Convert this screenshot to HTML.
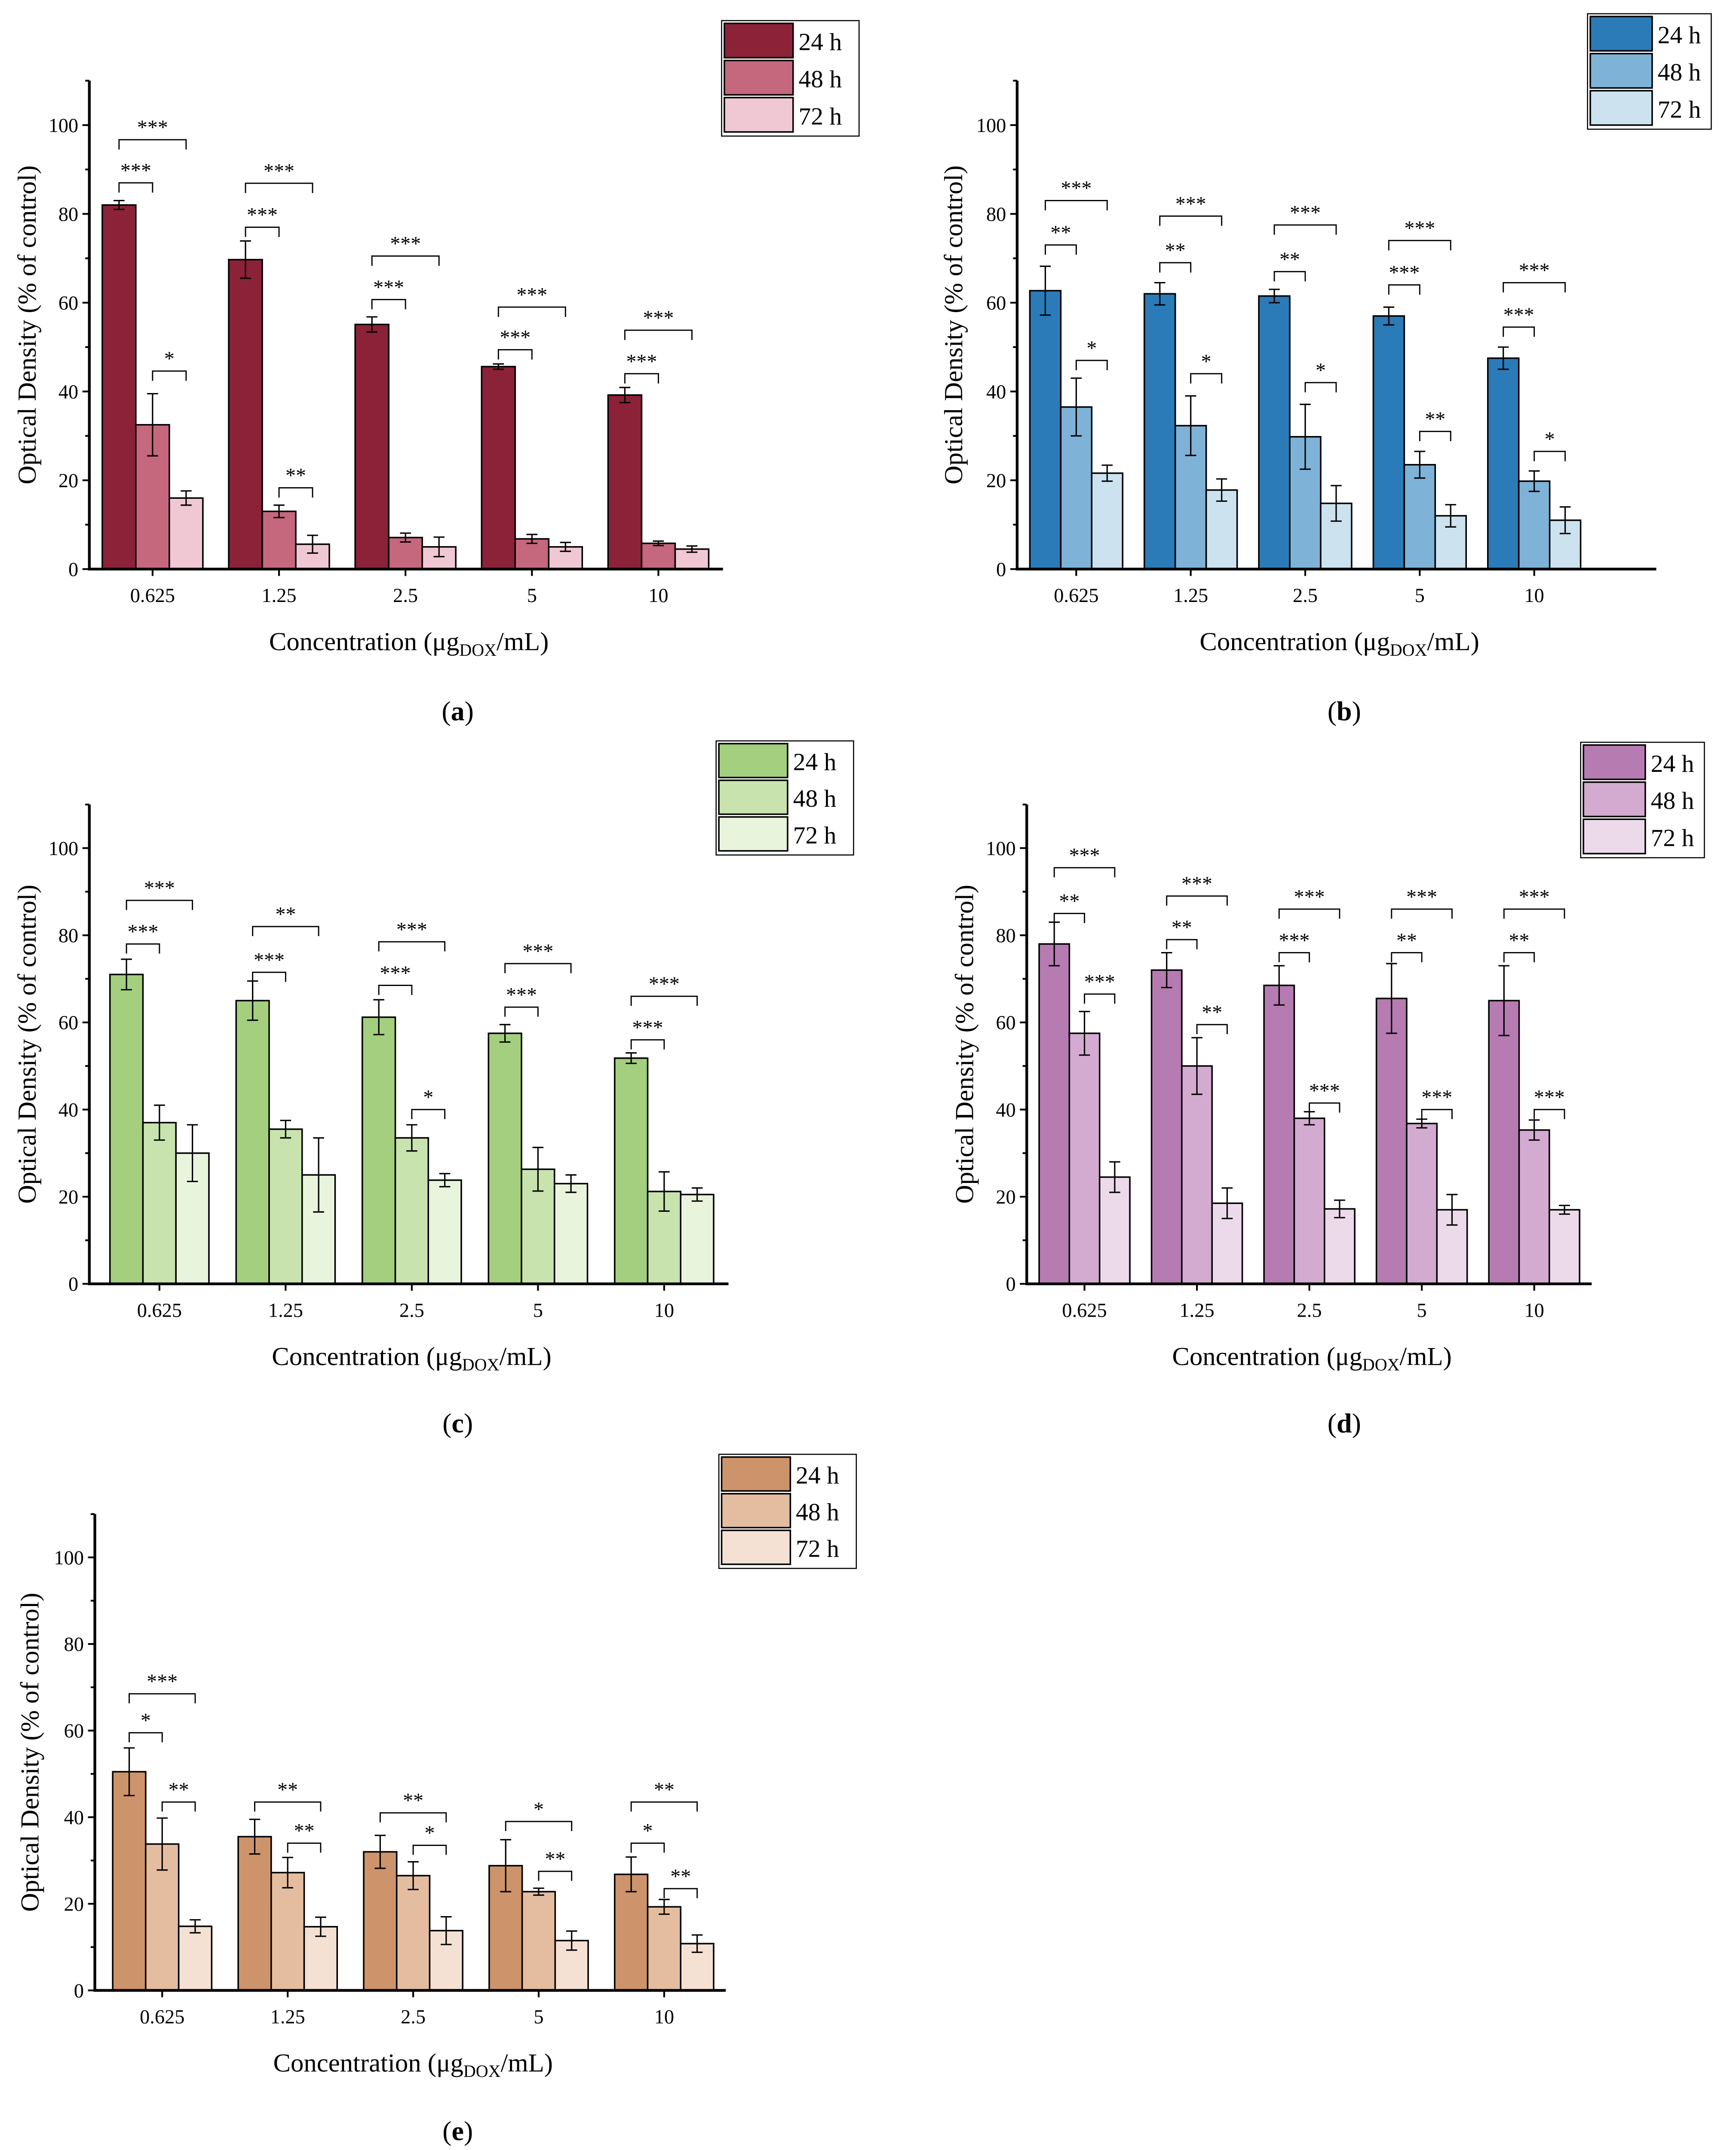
<!DOCTYPE html>
<html><head><meta charset="utf-8"><style>
html,body{margin:0;padding:0;background:#fff;width:4038px;height:5022px;overflow:hidden;position:relative}
svg{display:block;position:absolute;left:0;top:0}
text{font-family:"Liberation Serif",serif;fill:#000}
</style></head><body>
<svg id="fig" width="4038" height="5022" viewBox="0 0 1263 1571" preserveAspectRatio="none" xmlns="http://www.w3.org/2000/svg"></svg>
<script>
const categories = ["0.625","1.25","2.5","5","10"];
const seriesNames = ["24 h","48 h","72 h"];
const yTicks = [0,20,40,60,80,100];
// panel a
const a24 = [82,69.7,55.1,45.6,39.2], a24e=[1,4.2,1.7,0.6,1.7];
const a48 = [32.5,13,7.1,6.8,5.8], a48e=[7,1.4,1,1,0.5];
const a72 = [16,5.6,5,5,4.5], a72e=[1.6,2,2.2,1,0.7];
const aSig = [[0,0,1,87,"***"],[0,0,2,96.7,"***"],[0,1,2,44.6,"*"],[1,0,1,77,"***"],[1,0,2,86.9,"***"],[1,1,2,18.3,"**"],[2,0,1,60.7,"***"],[2,0,2,70.5,"***"],[3,0,1,49.4,"***"],[3,0,2,59,"***"],[4,0,1,44,"***"],[4,0,2,53.8,"***"]];
// panel b
const b24 = [62.7,62,61.5,57,47.5], b24e=[5.5,2.5,1.5,2,2.5];
const b48 = [36.5,32.3,29.8,23.5,19.8], b48e=[6.5,6.7,7.3,3,2.3];
const b72 = [21.6,17.8,14.8,12,11], b72e=[1.8,2.5,4,2.5,3];
const bSig = [[0,0,1,73,"**"],[0,0,2,83,"***"],[0,1,2,47,"*"],[1,0,1,69,"**"],[1,0,2,79.5,"***"],[1,1,2,44,"*"],[2,0,1,67,"**"],[2,0,2,77.5,"***"],[2,1,2,42,"*"],[3,0,1,64,"***"],[3,0,2,74,"***"],[3,1,2,31,"**"],[4,0,1,54.5,"***"],[4,0,2,64.5,"***"],[4,1,2,26.5,"*"]];
// panel c
const c24 = [71,65,61.2,57.5,51.8], c24e=[3.5,4.5,4,2,1.2];
const c48 = [37,35.5,33.5,26.3,21.2], c48e=[4,2,3,5,4.5];
const c72 = [30,25,23.8,23,20.5], c72e=[6.5,8.5,1.5,2,1.5];
const cSig = [[0,0,1,78,"***"],[0,0,2,88,"***"],[1,0,1,71.5,"***"],[1,0,2,82,"**"],[2,0,1,68.5,"***"],[2,0,2,78.5,"***"],[2,1,2,40,"*"],[3,0,1,63.5,"***"],[3,0,2,73.5,"***"],[4,0,1,56,"***"],[4,0,2,66,"***"]];
// panel d
const d24 = [78,72,68.5,65.5,65], d24e=[5,4,4.5,8,8];
const d48 = [57.5,50,38,36.8,35.3], d48e=[5,6.5,1.5,1,2.3];
const d72 = [24.5,18.5,17.2,17,17], d72e=[3.5,3.5,2,3.5,1];
const dSig = [[0,0,1,85,"**"],[0,0,2,95.5,"***"],[0,1,2,66.5,"***"],[1,0,1,79,"**"],[1,0,2,89,"***"],[1,1,2,59.5,"**"],[2,0,1,76,"***"],[2,0,2,86,"***"],[2,1,2,41.5,"***"],[3,0,1,76,"**"],[3,0,2,86,"***"],[3,1,2,40,"***"],[4,0,1,76,"**"],[4,0,2,86,"***"],[4,1,2,40,"***"]];
// panel e
const e24 = [50.5,35.5,32,28.8,26.8], e24e=[5.5,4,3.8,6,4];
const e48 = [33.8,27.2,26.5,22.8,19.3], e48e=[6,3.5,3.2,0.8,1.7];
const e72 = [14.8,14.7,13.8,11.5,10.8], e72e=[1.5,2.2,3.2,2.2,2];
const eSig = [[0,0,1,59.5,"*"],[0,0,2,68.5,"***"],[0,1,2,43.5,"**"],[1,0,2,43.5,"**"],[1,1,2,34,"**"],[2,0,2,41,"**"],[2,1,2,33.5,"*"],[3,0,2,39,"*"],[3,1,2,27.5,"**"],[4,0,1,34,"*"],[4,0,2,43.5,"**"],[4,1,2,23.5,"**"]];

const panels = [
 {id:"a",ax0:65,ax1:526,c0:111,step:92,bw:24.4,y0:414,y100:91,leg:[525,15,100,84],ylx:20,cap:[333,517],
  vals:[a24,a48,a72],errs:[a24e,a48e,a72e],sig:aSig,col:["#8b2238","#c5677d","#f0c8d3"]},
 {id:"b",ax0:740,ax1:1205,c0:783,step:83.3,bw:22.5,y0:414,y100:91,leg:[1155,10,90,84],ylx:694,cap:[978,517],
  vals:[b24,b48,b72],errs:[b24e,b48e,b72e],sig:bSig,col:["#2b7bb9","#7fb2d7","#cde2ef"]},
 {id:"c",ax0:65,ax1:530,c0:116,step:91.8,bw:24,y0:934,y100:617,leg:[521,539,100,83],ylx:20,cap:[333,1035],
  vals:[c24,c48,c72],errs:[c24e,c48e,c72e],sig:cSig,col:["#a3cf7e","#c8e3ae","#e9f4dc"]},
 {id:"d",ax0:747,ax1:1158,c0:789,step:81.8,bw:22,y0:934,y100:617,leg:[1150,540,90,84],ylx:702,cap:[978,1035],
  vals:[d24,d48,d72],errs:[d24e,d48e,d72e],sig:dSig,col:["#b67bb1","#d3abd0","#ecdaea"]},
 {id:"e",ax0:69,ax1:528,c0:118,step:91.3,bw:24,y0:1448,y100:1133,leg:[523,1058,100,83],ylx:22,cap:[333,1550],
  vals:[e24,e48,e72],errs:[e24e,e48e,e72e],sig:eSig,col:["#cd936b","#e4bda0","#f5e1d3"]}
];
const NS="http://www.w3.org/2000/svg";
const svg=document.getElementById('fig');
function mk(tag,attrs,parent,txt){const e=document.createElementNS(NS,tag);for(const k in attrs)e.setAttribute(k,attrs[k]);if(txt!==undefined)e.textContent=txt;(parent||svg).appendChild(e);return e;}
panels.forEach(p=>{
 const g=mk('g',{});
 
 
 const yScale=v=>p.y0+(p.y100-p.y0)*v/100;
 const xScale=(i,s)=>p.c0+i*p.step+(s-1)*p.bw;
 p.vals.forEach((arr,s)=>{arr.forEach((v,i)=>{
   const x=xScale(i,s)-p.bw/2,y=yScale(v);
   const r=mk('rect',{x:x,y:y,width:p.bw,height:p.y0-y,fill:p.col[s],stroke:'#000','stroke-width':1.1},g);
   
   
   const e=p.errs[s][i],cx=xScale(i,s);
   const eb=mk('path',{d:`M${cx},${yScale(v+e)}V${yScale(v-e)}M${cx-4},${yScale(v+e)}h8M${cx-4},${yScale(v-e)}h8`,stroke:'#000','stroke-width':1,fill:'none'},g);
   
   
 });});
 const dy=(p.y0-p.y100)*2.2/100;
 p.sig.forEach(sg=>{
   const [i,s1,s2,v,lab]=sg;const x1=xScale(i,s1),x2=xScale(i,s2),y=yScale(v);
   const br=mk('path',{d:`M${x1},${y+dy}V${y}H${x2}V${y+dy}`,stroke:'#000','stroke-width':0.9,fill:'none'},g);
   
   
   const t=mk('text',{x:(x1+x2)/2,y:y-4,'text-anchor':'middle','font-size':15,'font-family':'Liberation Sans'},g,lab);
   
   
 });
 const ytop=yScale(110);
 const ax=mk('path',{d:`M${p.ax0},${ytop}V${p.y0}H${p.ax1}`,stroke:'#000','stroke-width':2,fill:'none'},g);
 
 
 for(let v=0;v<=110;v+=10){
   const y=yScale(v);mk('line',{x1:p.ax0-(v%20===0?5:3),x2:p.ax0,y1:y,y2:y,stroke:'#000','stroke-width':1.3},g);
 }
 yTicks.forEach(v=>{const t=mk('text',{x:p.ax0-8,y:yScale(v)+5,'text-anchor':'end','font-size':14.5},g,String(v));
   
   });
 categories.forEach((c,i)=>{const x=xScale(i,1);
   mk('line',{x1:x,x2:x,y1:p.y0,y2:p.y0+5,stroke:'#000','stroke-width':1.3},g);
   const t=mk('text',{x:x,y:p.y0+24,'text-anchor':'middle','font-size':14.5},g,c);
   
   });
 const xt=mk('text',{x:(p.ax0+p.ax1)/2+2,y:p.y0+59,'text-anchor':'middle','font-size':19},g);
 
 
 xt.innerHTML='Concentration (μg<tspan font-size="12.5" dy="4">DOX</tspan><tspan dy="-4">/mL)</tspan>';
 const ymid=(p.y0+ytop)/2;
 const yt=mk('text',{x:p.ylx+6,y:ymid,'text-anchor':'middle','font-size':19,transform:`rotate(-90 ${p.ylx+6} ${ymid})`},g,'Optical Density (% of control)');
 
 
 const [lx,ly,lw,lh]=p.leg;
 const lg=mk('g',{},g);
 
 
 mk('rect',{x:lx,y:ly,width:lw,height:lh,fill:'#fff',stroke:'#000','stroke-width':0.8},lg);
 const rh=(lh-6)/3;
 seriesNames.forEach((n,s)=>{
   const yy=ly+2+s*(rh+1);
   mk('rect',{x:lx+2,y:yy,width:lw*0.5,height:rh-1,fill:p.col[s],stroke:'#000','stroke-width':1.1},lg);
   const t=mk('text',{x:lx+lw*0.5+6,y:yy+rh*0.75,'font-size':18},lg,n);
   
   
 });
 const cap=mk('text',{x:p.cap[0],y:p.cap[1]+7,'text-anchor':'middle','font-size':20},g);
 
 
 cap.innerHTML='(<tspan font-weight="bold">'+p.id+'</tspan>)';
});
</script>
</body></html>
